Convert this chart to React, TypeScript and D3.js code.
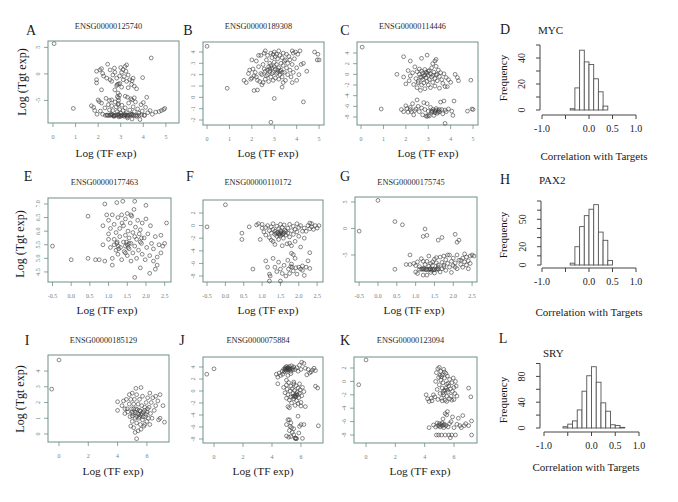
import React from "react";
import * as d3 from "d3";

type Pt = [number, number];

// ---------- scatter data ----------
const ptsA: Pt[] = [
  [0.05,5.7],[0.9,-6.5],[4.35,3.0],[3.97,-0.7],[4.15,-4.4],[4.0,-5.4],
  [4.8,-6.9],[4.9,-6.7],[4.95,-6.5],[4.7,-7.1],[4.55,-7.2],[4.4,-7.6],
  [2.42,1.83],[2.08,0.75],[2.15,1.0],[1.93,0.5],[2.24,-0.4],[2.53,0.75],[2.72,1.1],[2.74,0.3],[2.82,-0.8],[3.0,1.2],
  [3.04,0.3],[3.19,1.4],[3.26,1.7],[3.23,0.5],[3.33,-0.2],[3.4,-1.1],[3.55,-0.8],[3.48,-2.0],[3.6,-2.3],[3.26,-1.4],
  [3.11,-1.1],[2.96,-1.8],[2.82,-2.2],[2.74,-3.0],[2.88,-3.6],[2.38,-0.8],[2.53,-1.1],[1.93,-1.1],[1.93,-1.7],[2.15,-3.0],
  [2.6,-1.4],[3.04,-2.5],[3.33,-2.6],[2.9,-1.9],[2.85,-2.0],[2.2,0.1],[2.65,-0.2],[3.15,-0.5],[3.5,-1.3],[3.7,-2.8],
  [3.1,0.8],[2.95,-0.4],[2.85,-4.3],[2.9,-5.0],[2.95,-4.0],[2.88,-5.8],[3.45,-4.7],[2.5,-5.0],
  [1.7,-6.0],[1.8,-6.3],[1.85,-6.9],[1.95,-7.6],[2.05,-5.2],[2.1,-7.0],[2.2,-7.6],[2.15,-5.5],[2.3,-6.4],[2.4,-7.8],
  [2.45,-5.8],[2.5,-6.8],[2.55,-7.7],[2.6,-6.0],[2.65,-6.9],[2.7,-7.9],[2.75,-5.3],[2.8,-6.2],[2.85,-7.1],[2.9,-4.5],
  [2.9,-5.6],[2.92,-8.1],[2.95,-6.7],[3.0,-7.4],[3.05,-5.9],[3.1,-6.9],[3.15,-8.0],[3.2,-4.2],[3.2,-6.4],[3.25,-7.3],
  [3.3,-8.3],[3.35,-5.5],[3.4,-6.8],[3.45,-7.6],[3.5,-4.9],[3.5,-8.5],[3.55,-6.2],[3.6,-7.1],[3.65,-5.3],[3.7,-8.0],
  [3.75,-6.6],[3.8,-7.4],[3.85,-8.6],[3.9,-5.8],[3.95,-7.0],[4.05,-7.8],[4.1,-6.3],[4.2,-7.3],[4.3,-6.9],[2.35,-4.6],
  [2.6,-4.9],[3.3,-4.4],[2.0,-4.9],[3.6,-4.5],
  [2.32,-7.8],[2.4,-7.75],[2.47,-7.85],[2.55,-7.8],[2.62,-7.75],[2.68,-7.85],[2.74,-7.8],[2.8,-7.8],[2.86,-7.75],[2.92,-7.85],
  [2.98,-7.8],[3.04,-7.8],[3.1,-7.85],[3.16,-7.75],[3.22,-7.8],[3.28,-7.8],[3.34,-7.85],[3.4,-7.75],[3.48,-7.8],[3.56,-7.8],
  [3.64,-7.85],[3.72,-7.8],[3.82,-7.8],[3.92,-7.75],[4.05,-7.8],[2.6,-7.6],[2.9,-7.6],[3.2,-7.6],[3.5,-7.6],[3.0,-8.0],
  [2.7,-8.0],[3.3,-8.05]
];

const ptsB: Pt[] = [
  [0.0,4.5],[0.9,0.8],[2.85,-2.2],[3.0,-0.1],[4.3,-0.4],[3.35,0.9],[2.1,0.6],[2.25,0.65],[4.0,1.5],[4.8,4.0],
  [4.95,3.8],[4.92,3.3],[5.0,3.3],[4.45,2.3],[4.2,2.9],[4.3,3.0],[4.15,4.1],[3.8,4.1],[3.85,3.9],[3.95,4.0],
  [1.65,1.5],[1.75,1.3],[1.85,2.1],[1.95,1.6],[2.0,3.3],[2.05,2.5],[2.1,1.9],[2.15,2.2],[2.2,3.2],[2.25,1.5],
  [2.3,2.7],[2.35,1.4],[2.4,3.7],[2.45,2.0],[2.5,2.9],[2.5,1.3],[2.55,3.9],[2.6,2.3],[2.6,1.6],[2.65,3.3],
  [2.7,2.0],[2.7,3.7],[2.75,2.7],[2.75,1.4],[2.8,3.0],[2.8,2.3],[2.85,3.9],[2.85,1.8],[2.9,2.6],[2.9,3.5],
  [2.95,1.5],[2.95,2.2],[3.0,4.0],[3.0,3.1],[3.05,2.5],[3.05,1.7],[3.1,3.8],[3.1,2.9],[3.15,2.2],[3.15,3.4],
  [3.2,1.6],[3.2,2.6],[3.25,3.7],[3.25,2.0],[3.3,3.0],[3.3,2.4],[3.35,3.5],[3.35,1.8],[3.4,2.8],[3.4,3.9],
  [3.45,2.2],[3.5,3.3],[3.5,1.5],[3.55,2.6],[3.6,3.0],[3.6,2.0],[3.65,3.6],[3.7,2.4],[3.75,1.8],[3.8,2.9],
  [3.85,2.2],[3.9,3.4],[4.0,2.6],[4.05,3.8],[4.1,2.0],[3.2,4.1],[2.3,3.7],[2.6,4.1],[2.95,3.8],[3.05,3.6],
  [2.8,2.5],[3.15,2.4],[3.25,2.3],[3.35,2.2],[3.1,2.1],[2.9,2.1],[2.7,2.4],[2.85,2.8],[3.45,3.2],[3.0,2.7],
  [2.4,2.1],[2.2,1.8],[2.55,2.5],[3.7,3.3],[3.55,3.8],[2.65,1.9],[2.0,1.7],[1.9,2.4],[3.4,1.3],[3.8,1.3],[2.45,1.1]
];

const ptsC: Pt[] = [
  [0.05,5.1],[0.9,-6.5],[3.75,-9.2],[4.9,-1.1],[1.9,3.3],[2.2,2.5],[2.7,3.0],[2.95,3.6],[3.3,2.5],[3.35,2.8],
  [1.6,0.0],[4.2,0.0],[4.3,-0.6],[4.35,-1.2],
  [1.9,-0.5],[2.0,-1.8],[2.1,0.7],[2.15,-1.2],[2.2,-0.3],[2.3,0.3],[2.35,-1.9],[2.4,1.4],[2.45,-0.8],[2.5,-2.5],
  [2.5,0.5],[2.55,-1.3],[2.6,0.0],[2.6,1.0],[2.65,-0.5],[2.7,-2.0],[2.7,0.6],[2.75,-1.0],[2.75,0.2],[2.8,-0.3],
  [2.8,-1.6],[2.85,0.9],[2.85,-2.7],[2.9,-0.6],[2.9,0.4],[2.95,-1.3],[3.0,-0.2],[3.0,-2.0],[3.05,0.7],[3.05,-1.0],
  [3.1,-2.5],[3.1,0.1],[3.15,1.2],[3.15,-0.5],[3.2,-1.5],[3.2,2.0],[3.25,0.4],[3.3,-2.2],[3.3,-0.8],[3.35,1.5],
  [3.4,0.0],[3.4,-1.2],[3.45,0.8],[3.5,-0.4],[3.5,-2.6],[3.55,0.3],[3.6,-1.0],[3.65,-1.7],[3.7,0.1],[3.75,-2.3],
  [3.8,-0.6],[3.9,-1.0],[4.0,-1.5],[3.85,-2.3],[2.55,-1.6],[2.65,-3.0],[3.0,0.6],[2.95,0.2],[2.7,-0.6],[3.2,-0.2],
  [3.35,-0.1],[2.85,-0.1],
  [1.8,-6.6],[1.9,-7.0],[2.0,-5.9],[2.05,-6.4],[2.1,-7.1],[2.2,-6.2],[2.25,-7.0],[2.3,-5.5],[2.35,-7.6],[2.4,-6.8],
  [2.5,-4.8],[2.55,-6.0],[2.6,-7.0],[2.7,-6.3],[2.75,-7.6],[2.8,-5.3],[2.85,-6.6],[2.9,-7.8],[2.95,-5.5],[3.0,-6.9],
  [3.05,-7.8],[3.1,-6.2],[3.15,-7.1],[3.2,-6.6],[3.25,-7.7],[3.3,-6.9],[3.35,-6.4],[3.4,-7.3],[3.45,-6.8],[3.5,-7.0],
  [3.55,-5.2],[3.6,-6.6],[3.65,-7.4],[3.7,-5.0],[3.75,-6.7],[3.8,-7.0],[3.9,-6.5],[4.05,-6.9],[4.15,-5.0],[4.1,-7.7],
  [4.75,-6.9],[4.95,-6.5],[5.0,-6.6],[3.15,-6.9],[3.3,-7.2],[3.45,-7.1],[3.2,-7.0],[3.0,-7.7],[2.95,-7.9],[3.35,-6.7],
  [3.5,-6.6],[2.45,-6.5],[2.2,-6.6]
];

const ptsE: Pt[] = [
  [-0.5,5.45],[0.0,4.95],[0.45,6.55],[0.45,5.0],[0.65,4.95],[0.75,4.95],[0.85,5.5],[0.9,7.0],[1.7,4.3],[2.1,4.45],
  [2.55,6.3],[1.7,7.1],[1.38,7.1],[1.22,7.05],[2.0,6.95],[0.9,4.9],[1.1,4.75],[2.25,4.6],[2.3,4.75],
  [0.95,6.6],[1.0,5.9],[1.0,6.4],[1.05,6.1],[1.05,5.4],[1.1,6.6],[1.1,5.0],[1.15,5.7],[1.15,6.25],[1.2,5.3],
  [1.2,5.95],[1.22,5.55],[1.25,6.5],[1.25,5.15],[1.3,5.8],[1.3,6.1],[1.32,5.4],[1.35,4.95],[1.35,6.6],[1.4,5.6],
  [1.4,6.2],[1.42,5.25],[1.45,5.85],[1.45,6.45],[1.5,5.5],[1.5,6.65],[1.5,5.1],[1.52,6.0],[1.55,5.35],[1.55,5.75],
  [1.58,6.3],[1.6,4.9],[1.6,5.55],[1.62,6.55],[1.65,5.2],[1.65,5.95],[1.68,6.8],[1.7,5.45],[1.72,6.15],[1.75,5.0],
  [1.75,5.7],[1.78,6.4],[1.8,5.3],[1.82,5.9],[1.85,4.65],[1.85,6.05],[1.88,5.55],[1.9,5.15],[1.9,6.3],[1.95,5.75],
  [1.98,4.95],[2.0,6.45],[2.02,5.4],[2.05,5.9],[2.1,5.1],[2.12,6.2],[2.15,5.55],[2.2,4.9],[2.2,5.35],[2.25,5.8],
  [2.3,5.05],[2.35,5.5],[2.4,5.85],[2.4,5.2],[2.45,5.45],[2.5,5.55],[1.23,5.6],[1.26,5.45],[1.45,5.45],[1.48,5.6],
  [1.52,5.4],[1.55,5.55],[1.85,5.6],[1.88,5.75],[1.36,6.3],[1.6,6.6],[1.45,5.2],[1.27,5.35],[1.15,5.5],[1.7,5.8],
  [1.0,5.7],[0.85,6.2]
];

const ptsF: Pt[] = [
  [-0.5,-0.2],[0.0,3.3],[0.45,-1.2],[0.45,-2.2],[0.65,-0.2],[0.75,-6.9],[1.5,-8.8],[1.2,-8.8],[0.85,0.1],[0.95,-2.2],[2.3,-4.3],
  [0.9,0.3],[1.0,-0.4],[1.0,0.2],[1.05,-1.0],[1.1,-0.3],[1.1,-1.5],[1.15,0.0],[1.2,-0.8],[1.2,-1.9],[1.25,-0.2],
  [1.25,-1.2],[1.3,0.3],[1.3,-0.6],[1.3,-2.5],[1.35,-1.4],[1.35,-0.9],[1.4,-0.1],[1.4,-1.7],[1.42,-1.1],[1.45,-0.5],
  [1.45,-2.2],[1.48,-1.3],[1.5,0.2],[1.5,-0.8],[1.5,-1.6],[1.52,-1.0],[1.55,-1.4],[1.55,-0.3],[1.58,-2.0],[1.6,-1.1],
  [1.6,0.1],[1.62,-0.7],[1.65,-1.5],[1.68,-2.9],[1.7,-0.4],[1.7,-1.2],[1.75,0.2],[1.75,-1.8],[1.8,-0.8],[1.8,-3.2],
  [1.85,-0.1],[1.85,-1.4],[1.9,-0.6],[1.9,-2.5],[1.95,0.3],[1.95,-1.0],[2.0,-1.7],[2.0,-0.3],[2.05,0.0],[2.05,-3.4],
  [2.1,-0.9],[2.15,-0.4],[2.15,-2.0],[2.2,-0.9],[2.25,0.0],[2.3,0.4],[2.3,-0.5],[2.35,-0.2],[2.35,0.3],[2.4,-0.6],
  [2.45,0.0],[2.5,-0.4],[2.55,0.0],[1.35,-3.0],[1.55,-3.2],[1.25,-2.3],[1.75,-2.8],[1.45,-1.3],[1.52,-1.2],[1.58,-1.3],
  [1.47,-1.5],[1.38,-1.2],[1.65,-0.9],
  [1.1,-5.6],[1.15,-6.6],[1.2,-7.7],[1.22,-8.0],[1.3,-5.2],[1.35,-6.6],[1.4,-7.3],[1.45,-5.8],[1.5,-6.9],[1.55,-7.6],
  [1.6,-6.3],[1.65,-8.0],[1.7,-5.5],[1.72,-6.9],[1.75,-7.6],[1.8,-6.1],[1.82,-6.6],[1.85,-7.2],[1.9,-5.2],[1.92,-6.7],
  [1.95,-7.7],[2.0,-6.6],[2.05,-6.9],[2.1,-6.4],[2.15,-7.9],[2.2,-6.6],[2.25,-5.6],[2.3,-6.8],[2.1,-7.1],[1.78,-6.5],
  [1.85,-4.6],[1.8,-4.4]
];

const ptsG: Pt[] = [
  [-0.5,-0.5],[0.0,5.3],[0.45,1.3],[0.65,0.7],[0.45,-7.7],[0.85,-5.0],[1.25,-0.1],[1.2,-1.5],[1.3,-1.3],[1.6,-2.2],
  [1.7,-1.7],[2.05,-1.1],[2.15,-2.2],[2.1,-2.6],[0.75,-6.8],[0.85,-6.8],
  [1.1,-7.7],[1.15,-7.7],[1.2,-7.72],[1.25,-7.68],[1.3,-7.7],[1.35,-7.75],[1.4,-7.7],[1.45,-7.68],[1.5,-7.72],[1.55,-7.7],
  [1.6,-7.7],[1.18,-7.6],[1.28,-7.8],[1.38,-7.6],[1.48,-7.8],[1.58,-7.6],[1.22,-7.5],[1.42,-7.9],
  [0.95,-6.6],[1.0,-8.2],[1.0,-7.0],[1.05,-8.5],[1.05,-6.3],[1.1,-7.2],[1.15,-5.7],[1.2,-8.8],[1.25,-6.8],[1.3,-6.2],
  [1.3,-8.8],[1.35,-5.2],[1.4,-6.6],[1.4,-8.3],[1.45,-7.0],[1.5,-5.8],[1.5,-8.4],[1.55,-6.5],[1.6,-7.3],[1.65,-5.4],
  [1.65,-8.2],[1.7,-6.4],[1.7,-7.6],[1.75,-6.9],[1.8,-5.9],[1.8,-7.9],[1.85,-6.6],[1.85,-5.0],[1.9,-7.3],[1.95,-6.2],
  [1.95,-8.3],[2.0,-5.6],[2.0,-7.0],[2.05,-6.5],[2.1,-5.0],[2.1,-7.6],[2.15,-6.0],[2.2,-6.8],[2.25,-5.6],[2.25,-7.3],
  [2.3,-6.3],[2.3,-4.8],[2.35,-5.4],[2.35,-6.9],[2.4,-6.1],[2.45,-5.2],[2.45,-6.6],[2.5,-5.0],[2.55,-5.2],[2.4,-7.6],
  [1.9,-5.0],[1.75,-5.2],[1.55,-5.5],[1.2,-6.2],[1.6,-6.9],[1.35,-7.1],[1.45,-6.3],[1.75,-7.2],[2.05,-7.3],[2.2,-6.0]
];

const ptsI: Pt[] = [
  [0.0,4.7],[-0.5,2.85],[5.3,-0.3],[5.2,0.1],[5.6,2.95],[6.9,2.5],[7.1,1.8],[7.2,0.75],[6.9,1.0],[6.8,0.9],
  [6.6,2.4],[6.4,2.3],[6.75,2.1],[4.0,2.05],[4.0,1.5],[4.3,1.8],[4.5,1.6],[4.6,2.2],[4.7,1.4],[4.8,1.9],
  [4.8,2.5],[4.85,1.1],[4.9,2.2],[4.95,1.6],[5.0,0.8],[5.0,2.6],[5.05,1.3],[5.1,1.9],[5.1,0.4],[5.15,2.2],
  [5.2,1.0],[5.25,1.6],[5.3,2.5],[5.3,0.7],[5.35,1.3],[5.4,1.9],[5.4,0.2],[5.45,1.0],[5.5,1.5],[5.5,2.2],
  [5.55,0.6],[5.6,1.2],[5.65,1.8],[5.7,0.9],[5.7,2.4],[5.75,1.4],[5.8,0.5],[5.85,1.7],[5.9,1.1],[5.95,2.0],
  [6.0,0.8],[6.0,1.4],[6.05,2.3],[6.1,1.0],[6.15,1.7],[6.2,0.6],[6.25,1.3],[6.3,2.0],[6.35,1.0],[6.5,1.5],
  [6.6,1.8],[6.2,2.6],[5.25,2.9],[4.9,0.5],[5.0,1.15],[5.2,1.35],[5.35,1.55],[5.45,1.25],[5.55,1.45],[5.65,1.3],
  [5.1,1.6],[5.3,1.1],[5.5,1.1],[5.75,1.1],[5.0,1.4],[4.65,1.6],[5.85,1.5],[5.95,1.25],[6.05,1.6],[4.5,1.3],
  [4.4,2.1],[5.6,0.3],[5.85,0.6]
];

const ptsJ: Pt[] = [
  [-0.5,2.8],[0.0,3.7],
  [4.3,2.8],[4.4,2.3],[4.5,3.0],[4.6,2.6],[4.7,3.3],[4.75,2.8],[4.8,3.6],[4.85,3.2],[4.9,3.9],[4.95,3.5],
  [5.0,4.1],[5.0,3.3],[5.05,3.7],[5.1,3.9],[5.15,3.5],[5.2,4.1],[5.25,3.7],[5.3,3.3],[5.35,4.2],[5.4,3.8],
  [5.45,3.5],[5.5,4.0],[5.6,3.6],[5.7,3.9],[5.8,3.3],[5.9,4.3],[6.0,3.6],[6.05,4.8],[6.2,4.6],[6.3,3.8],
  [6.4,2.7],[6.5,3.6],[6.7,3.2],[6.8,3.5],[6.9,3.8],[7.0,3.4],[6.6,3.0],[5.1,2.6],[5.0,1.8],[4.4,1.2],
  [5.3,2.9],[4.95,3.75],[5.05,3.85],[5.15,3.8],[5.25,3.6],[5.1,3.6],[4.9,3.6],
  [4.8,0.6],[4.9,-0.3],[5.0,1.0],[5.0,-1.2],[5.05,0.3],[5.1,-0.6],[5.15,1.4],[5.2,-1.5],[5.25,0.0],[5.3,0.8],
  [5.3,-1.0],[5.35,-2.0],[5.4,0.4],[5.45,-0.4],[5.5,1.2],[5.5,-1.3],[5.55,0.1],[5.6,-0.7],[5.65,0.9],[5.7,-1.6],
  [5.75,-0.2],[5.8,0.5],[5.85,-1.1],[5.9,-0.4],[5.95,0.2],[6.0,-1.9],[6.05,-0.8],[6.1,0.6],[6.2,-0.1],[6.3,-2.6],
  [5.2,-2.8],[5.1,-2.6],[5.6,-2.4],[5.8,-2.1],[6.0,-2.5],[5.65,-0.9],[5.55,-0.8],[5.75,-0.7],[5.6,-1.0],[5.45,-0.9],
  [5.7,-0.5],[5.5,1.5],[5.9,1.2],[7.0,0.8],[7.15,0.5],
  [5.1,-4.8],[5.2,-4.8],[5.3,-5.3],[5.0,-5.6],[5.25,-5.9],[5.35,-6.1],[5.5,-6.3],[5.2,-6.6],[5.4,-6.9],[5.3,-7.6],
  [5.15,-7.7],[5.5,-7.3],[5.6,-7.9],[5.65,-7.9],[5.7,-7.95],[5.62,-7.85],[5.8,-4.2],[6.0,-5.6],[6.2,-5.6],[6.1,-7.9],
  [5.85,-7.0],[5.9,-5.9],[7.2,-5.8],[5.0,-7.5]
];

const ptsK: Pt[] = [
  [0.0,3.2],[-0.5,-0.5],
  [4.1,-2.0],[4.2,-2.6],[4.3,-3.0],[4.5,-2.9],[4.7,-2.3],[4.75,0.0],[4.8,1.3],[4.85,-1.2],[4.9,1.9],[4.9,-2.7],
  [4.95,0.6],[5.0,2.1],[5.0,-0.5],[5.05,-1.8],[5.1,1.5],[5.1,0.2],[5.15,-2.5],[5.2,1.0],[5.2,-1.0],[5.25,-0.2],
  [5.3,1.8],[5.3,-2.0],[5.35,0.5],[5.4,-1.3],[5.4,-2.8],[5.45,1.2],[5.5,-0.4],[5.5,-2.2],[5.55,0.8],[5.6,-1.6],
  [5.65,-0.7],[5.7,-2.6],[5.7,0.3],[5.75,-1.1],[5.8,-2.2],[5.85,-0.2],[5.9,-1.5],[5.95,0.5],[6.0,-0.9],[6.0,-2.7],
  [6.05,-1.8],[6.1,0.0],[6.15,-0.7],[6.2,-2.2],[5.3,-1.4],[5.45,-1.0],[5.55,-1.3],[5.6,-0.3],[5.25,-1.7],[5.15,0.7],
  [5.35,1.4],[5.05,0.9],[5.2,-2.9],[5.5,-3.0],[5.85,-2.8],[7.0,-1.0],[7.15,-2.3],[4.6,-2.0],[4.45,-2.5],
  [4.3,-6.9],[4.6,-6.5],[4.75,-6.8],[4.8,-8.0],[4.85,-6.2],[4.9,-6.6],[4.95,-8.0],[5.0,-6.3],[5.05,-6.8],[5.1,-6.4],
  [5.15,-8.0],[5.2,-6.6],[5.25,-5.6],[5.3,-6.9],[5.35,-6.4],[5.4,-8.0],[5.45,-6.6],[5.5,-5.0],[5.55,-4.5],[5.6,-6.8],
  [5.65,-8.0],[5.7,-6.3],[5.8,-6.0],[5.85,-8.0],[5.9,-5.3],[6.0,-6.9],[6.1,-8.0],[6.2,-6.4],[6.3,-5.5],[6.5,-6.9],
  [6.6,-5.1],[6.7,-6.6],[6.8,-6.3],[7.0,-6.6],[7.2,-5.9],[7.2,-8.0],[5.75,-8.4],[5.4,-4.8],[5.2,-6.2],[5.0,-6.6],
  [5.3,-6.5],[6.4,-6.6]
];

// ---------- tick values ----------
const ticksX15 = [0, 1, 2, 3, 4, 5];
const ticksXE = [-0.5, 0.0, 0.5, 1.0, 1.5, 2.0, 2.5];
const ticksXI = [0, 2, 4, 6];
const ticksYA = [-5, 0, 5];
const ticksYB = [-2, -1, 0, 1, 2, 3, 4];
const ticksYC = [-8, -6, -4, -2, 0, 2, 4];
const ticksYE = [4.5, 5.0, 5.5, 6.0, 6.5, 7.0];
const ticksYF = [-8, -6, -4, -2, 0, 2];
const ticksYG = [-5, 0, 5];
const ticksYI = [0, 1, 2, 3, 4];
const ticksYJ = [-8, -6, -4, -2, 0, 2, 4];
const ticksYK = [-8, -6, -4, -2, 0, 2];

// ---------- histogram data ----------
const histDStarts = [-0.4, -0.3, -0.2, -0.1, 0.0, 0.1, 0.2, 0.3];
const histDCounts = [1, 17, 46, 37, 35, 24, 14, 3];
const histHStarts = [-0.4, -0.3, -0.2, -0.1, 0.0, 0.1, 0.2, 0.3, 0.4];
const histHCounts = [2, 20, 42, 54, 61, 66, 36, 27, 5];
const histLStarts = [-0.6, -0.5, -0.4, -0.3, -0.2, -0.1, 0.0, 0.1, 0.2, 0.3, 0.4, 0.5, 0.6];
const histLCounts = [2, 6, 11, 28, 57, 81, 95, 71, 39, 26, 5, 4, 1];
const histXTicks = [-1, -0.5, 0, 0.5, 1];
const histXLabels = ["-1.0", "", "0.0", "0.5", "1.0"];
const histDYTicks = [0, 10, 20, 30, 40, 50];
const histDYLabels = ["0", "", "20", "", "40", ""];
const histHYTicks = [0, 10, 20, 30, 40, 50, 60, 70];
const histHYLabels = ["0", "", "20", "", "", "50", "", ""];
const histLYTicks = [0, 20, 40, 60, 80, 100];
const histLYLabels = ["0", "", "40", "", "80", ""];

const SERIF = "'Liberation Serif', 'DejaVu Serif', serif";
const FRAME = "#6f8f8a";
const TICKTXT = "#6f7f7c";

type ScatterProps = {
  box: [number, number, number, number];
  xDom: [number, number];
  yDom: [number, number];
  xTicks: number[];
  yTicks: number[];
  xDec: number;
  yDec: number;
  pts: Pt[];
  title: string;
  titleY: number;
  letter: string;
  letterX: number;
  letterY: number;
  xLabX: number;
  xLabY: number;
  yLab?: [number, number];
};

const fmt = (v: number, d: number) => v.toFixed(d);

function Scatter(p: ScatterProps) {
  const [x0, y0, x1, y1] = p.box;
  const x = d3.scaleLinear().domain(p.xDom).range([x0, x1]);
  const y = d3.scaleLinear().domain(p.yDom).range([y1, y0]);
  const cx = (x0 + x1) / 2 - 5;
  return (
    <g>
      <rect x={x0} y={y0} width={x1 - x0} height={y1 - y0} fill="none" stroke={FRAME} strokeWidth={1} />
      {p.xTicks.map((t) => (
        <g key={"x" + t}>
          <line x1={x(t)} x2={x(t)} y1={y1} y2={y1 + 4} stroke={FRAME} strokeWidth={0.8} />
          <text x={x(t)} y={y1 + 15.5} fontSize={6} textAnchor="middle" fill={TICKTXT} fontFamily={SERIF}>
            {fmt(t, p.xDec)}
          </text>
        </g>
      ))}
      {p.yTicks.map((t) => (
        <g key={"y" + t}>
          <line x1={x0} x2={x0 - 4} y1={y(t)} y2={y(t)} stroke={FRAME} strokeWidth={0.8} />
          <text
            transform={`translate(${x0 - 8.5},${y(t)}) rotate(-90)`}
            fontSize={6}
            textAnchor="middle"
            fill={TICKTXT}
            fontFamily={SERIF}
          >
            {fmt(t, p.yDec)}
          </text>
        </g>
      ))}
      {p.pts.map((d, i) => (
        <circle key={i} cx={x(d[0])} cy={y(d[1])} r={1.9} fill="none" stroke="#3a3a3a" strokeWidth={0.6} />
      ))}
      <text x={cx} y={p.titleY} fontSize={8.3} textAnchor="middle" fill="#2a2a2a" fontFamily={SERIF}>
        {p.title}
      </text>
      <text x={p.letterX} y={p.letterY} fontSize={14} textAnchor="middle" fill="#1a1a1a" fontFamily={SERIF}>
        {p.letter}
      </text>
      <text x={p.xLabX} y={p.xLabY} fontSize={11.3} textAnchor="middle" fill="#1a1a1a" fontFamily={SERIF}>
        Log (TF exp)
      </text>
      {p.yLab && (
        <text
          transform={`translate(${p.yLab[0] + 4},${p.yLab[1]}) rotate(-90)`}
          fontSize={12}
          textAnchor="middle"
          fill="#1a1a1a"
          fontFamily={SERIF}
        >
          Log (Tgt exp)
        </text>
      )}
    </g>
  );
}

type HistProps = {
  starts: number[];
  counts: number[];
  xRange: [number, number];
  axisY: number;
  axisX: number;
  y0: number;
  yMax: number;
  yTop: number;
  yTicks: number[];
  yLabels: string[];
  title: string;
  titleX: number;
  titleY: number;
  letter: string;
  letterX: number;
  letterY: number;
  freqY: number;
  corrX: number;
  corrY: number;
};

function Hist(p: HistProps) {
  const x = d3.scaleLinear().domain([-1, 1]).range(p.xRange);
  const y = d3.scaleLinear().domain([0, p.yMax]).range([p.y0, p.yTop]);
  const bw = 0.1;
  return (
    <g>
      {p.starts.map((s, i) => (
        <rect
          key={i}
          x={x(s)}
          y={y(p.counts[i])}
          width={x(s + bw) - x(s)}
          height={y(0) - y(p.counts[i])}
          fill="#fff"
          stroke="#555"
          strokeWidth={0.9}
        />
      ))}
      <line x1={x(-1)} x2={x(1)} y1={p.axisY} y2={p.axisY} stroke="#444" strokeWidth={1} />
      {histXTicks.map((t, i) => (
        <g key={"hx" + i}>
          <line x1={x(t)} x2={x(t)} y1={p.axisY} y2={p.axisY + 4} stroke="#444" strokeWidth={1} />
          <text x={x(t)} y={p.axisY + 17} fontSize={10} textAnchor="middle" fill="#222" fontFamily={SERIF}>
            {histXLabels[i]}
          </text>
        </g>
      ))}
      <line x1={p.axisX} x2={p.axisX} y1={y(p.yTicks[0])} y2={y(p.yTicks[p.yTicks.length - 1])} stroke="#444" strokeWidth={1} />
      {p.yTicks.map((t, i) => (
        <g key={"hy" + i}>
          <line x1={p.axisX} x2={p.axisX - 4} y1={y(t)} y2={y(t)} stroke="#444" strokeWidth={1} />
          <text
            transform={`translate(${p.axisX - 15.5},${y(t)}) rotate(-90)`}
            fontSize={10}
            textAnchor="middle"
            fill="#222"
            fontFamily={SERIF}
          >
            {p.yLabels[i]}
          </text>
        </g>
      ))}
      <text x={p.titleX} y={p.titleY} fontSize={11} fill="#1a1a1a" fontFamily={SERIF}>
        {p.title}
      </text>
      <text x={p.letterX} y={p.letterY} fontSize={14} textAnchor="middle" fill="#1a1a1a" fontFamily={SERIF}>
        {p.letter}
      </text>
      <text
        transform={`translate(${507},${p.freqY}) rotate(-90)`}
        fontSize={11}
        textAnchor="middle"
        fill="#1a1a1a"
        fontFamily={SERIF}
      >
        Frequency
      </text>
      <text x={p.corrX} y={p.corrY} fontSize={11} textAnchor="middle" fill="#1a1a1a" fontFamily={SERIF}>
        Correlation with Targets
      </text>
    </g>
  );
}

export default function App() {
  return (
    <svg
      width={678}
      height={502}
      viewBox="0 0 678 502"
      style={{ position: "absolute", left: 0, top: 0, background: "#fff" }}
    >
      <rect x={0} y={0} width={678} height={502} fill="#fff" />
      {/* Row 1 */}
      <Scatter box={[48, 41, 179, 123]} xDom={[-0.22, 5.58]} yDom={[-9.25, 6.2]} xTicks={ticksX15} yTicks={ticksYA}
        xDec={0} yDec={0} pts={ptsA} title="ENSG00000125740" titleY={29} letter="A" letterX={31} letterY={35}
        xLabX={106} xLabY={157} yLab={[22, 82]} />
      <Scatter box={[203, 42, 324, 125]} xDom={[-0.18, 5.22]} yDom={[-2.44, 4.88]} xTicks={ticksX15} yTicks={ticksYB}
        xDec={0} yDec={0} pts={ptsB} title="ENSG00000189308" titleY={29} letter="B" letterX={188} letterY={35}
        xLabX={268} xLabY={157} />
      <Scatter box={[357, 42, 478, 125]} xDom={[-0.18, 5.22]} yDom={[-9.5, 6.06]} xTicks={ticksX15} yTicks={ticksYC}
        xDec={0} yDec={0} pts={ptsC} title="ENSG00000114446" titleY={29} letter="C" letterX={345} letterY={35}
        xLabX={428} xLabY={157} />
      {/* Row 2 */}
      <Scatter box={[48, 198, 171, 282]} xDom={[-0.62, 2.67]} yDom={[4.13, 7.22]} xTicks={ticksXE} yTicks={ticksYE}
        xDec={1} yDec={1} pts={ptsE} title="ENSG00000177463" titleY={185} letter="E" letterX={28} letterY={181}
        xLabX={107} xLabY={314} yLab={[20, 244]} />
      <Scatter box={[203, 200, 323, 282]} xDom={[-0.61, 2.66]} yDom={[-8.95, 4.06]} xTicks={ticksXE} yTicks={ticksYF}
        xDec={1} yDec={0} pts={ptsF} title="ENSG00000110172" titleY={185} letter="F" letterX={190} letterY={181}
        xLabX={268} xLabY={314} />
      <Scatter box={[355, 197, 477, 282]} xDom={[-0.61, 2.63]} yDom={[-10.1, 5.94]} xTicks={ticksXE} yTicks={ticksYG}
        xDec={1} yDec={0} pts={ptsG} title="ENSG00000175745" titleY={185} letter="G" letterX={345} letterY={181}
        xLabX={414} xLabY={314} />
      {/* Row 3 */}
      <Scatter box={[48, 355, 169, 442]} xDom={[-0.75, 7.51]} yDom={[-0.51, 5.02]} xTicks={ticksXI} yTicks={ticksYI}
        xDec={0} yDec={0} pts={ptsI} title="ENSG00000185129" titleY={343} letter="I" letterX={27} letterY={345}
        xLabX={113} xLabY={475} yLab={[20, 399]} />
      <Scatter box={[203, 357, 323, 443]} xDom={[-0.76, 7.52]} yDom={[-8.67, 5.67]} xTicks={ticksXI} yTicks={ticksYJ}
        xDec={0} yDec={0} pts={ptsJ} title="ENSG0000075884" titleY={343} letter="J" letterX={182} letterY={345}
        xLabX={263} xLabY={475} />
      <Scatter box={[354, 357, 477, 443]} xDom={[-0.82, 7.57]} yDom={[-9.19, 3.64]} xTicks={ticksXI} yTicks={ticksYK}
        xDec={0} yDec={0} pts={ptsK} title="ENSG00000123094" titleY={343} letter="K" letterX={345} letterY={345}
        xLabX={420} xLabY={475} />
      {/* Histograms */}
      <Hist starts={histDStarts} counts={histDCounts} xRange={[542, 636]} axisY={115} axisX={540} y0={110}
        yMax={50} yTop={45} yTicks={histDYTicks} yLabels={histDYLabels} title="MYC" titleX={538} titleY={34}
        letter="D" letterX={505} letterY={34} freqY={78} corrX={594} corrY={160} />
      <Hist starts={histHStarts} counts={histHCounts} xRange={[542, 636]} axisY={268} axisX={541} y0={265}
        yMax={70} yTop={201} yTicks={histHYTicks} yLabels={histHYLabels} title="PAX2" titleX={539} titleY={184}
        letter="H" letterX={505} letterY={184} freqY={235} corrX={589} corrY={316} />
      <Hist starts={histLStarts} counts={histLCounts} xRange={[544, 639]} axisY={432} axisX={540} y0={428}
        yMax={100} yTop={363.5} yTicks={histLYTicks} yLabels={histLYLabels} title="SRY" titleX={543} titleY={357}
        letter="L" letterX={503} letterY={343} freqY={400} corrX={586} corrY={471} />
    </svg>
  );
}
